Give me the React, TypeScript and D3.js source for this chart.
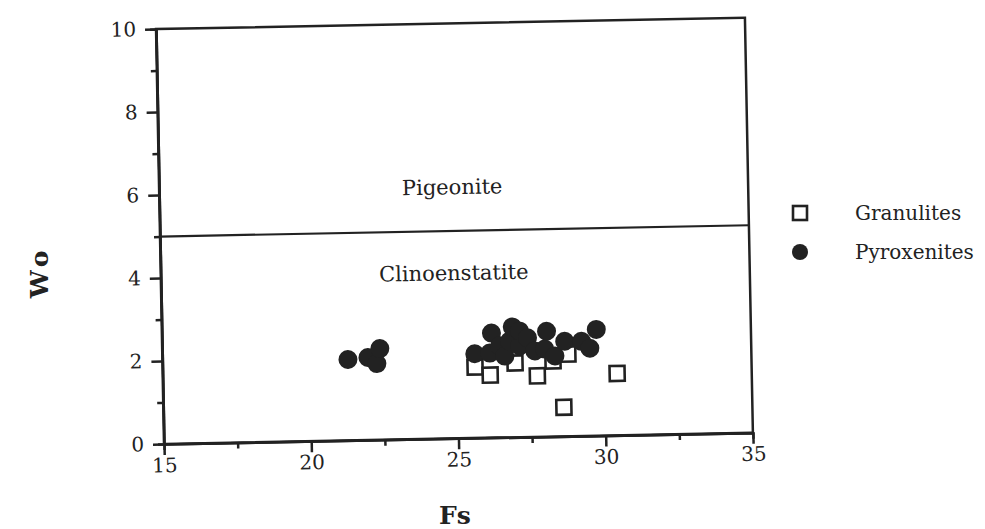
import React, { useEffect, useRef } from 'react';
import * as d3 from 'd3';

// Pyroxene Wo vs Fs (scanned figure, slightly tilted)
const granulites: [number, number][] = [
  [25.61, 1.71],
  [26.12, 1.51],
  [26.97, 1.79],
  [27.72, 1.47],
  [28.26, 1.82],
  [28.77, 1.98],
  [30.43, 1.49],
  [28.6, 0.7],
];

const pyroxenites: [number, number][] = [
  [21.3, 1.95],
  [21.98, 1.99],
  [22.28, 1.84],
  [22.39, 2.2],
  [25.61, 2.03],
  [26.12, 2.04],
  [26.19, 2.52],
  [26.46, 2.21],
  [26.63, 1.96],
  [26.8, 2.32],
  [26.9, 2.66],
  [27.14, 2.2],
  [27.14, 2.56],
  [27.41, 2.39],
  [27.65, 2.07],
  [27.99, 2.11],
  [28.06, 2.54],
  [28.33, 1.94],
  [28.67, 2.29],
  [29.24, 2.28],
  [29.52, 2.11],
  [29.75, 2.56],
];

const xTicks = [15, 20, 25, 30, 35];
const xMinor = [17.5, 22.5, 27.5, 32.5];
const yTicks = [0, 2, 4, 6, 8, 10];
const yMinor = [1, 3, 5, 7, 9];

const boundaryWo = 5;
const fieldLabels = [
  { name: 'Pigeonite', fs: 24.95, wo: 6.06 },
  { name: 'Clinoenstatite', fs: 24.95, wo: 3.99 },
];

const legendItems = ['Granulites', 'Pyroxenites'];

const FONT = '"DejaVu Serif", serif';

export default function App() {
  const svgRef = useRef<SVGSVGElement>(null);

  useEffect(() => {
    if (!svgRef.current) return;
    const svg = d3.select(svgRef.current);
    svg.selectAll('*').remove();

    const W = 589;
    const H = 415;
    const x = d3.scaleLinear().domain([15, 35]).range([0, W]);
    const y = d3.scaleLinear().domain([0, 10]).range([H, 0]);

    // the whole frame is tilted a little, like the scan
    const g = svg
      .append('g')
      .attr('transform', `translate(164,444) rotate(-1.1) translate(0,${-H})`);

    // frame (top and right)
    g.append('rect')
      .attr('x', 0)
      .attr('y', 0)
      .attr('width', W)
      .attr('height', H)
      .attr('fill', 'none')
      .attr('stroke', '#222')
      .attr('stroke-width', 2.5);

    // Wo = 5 boundary
    g.append('line')
      .attr('x1', x(15))
      .attr('x2', x(35))
      .attr('y1', y(boundaryWo))
      .attr('y2', y(boundaryWo))
      .attr('stroke', '#222')
      .attr('stroke-width', 2.2);

    const styleAxis = (sel: any) => {
      sel.select('.domain').attr('stroke', '#222').attr('stroke-width', 2.5);
      sel.selectAll('.tick line').attr('stroke', '#222').attr('stroke-width', 2.5);
      sel.selectAll('.tick text')
        .attr('fill', '#222')
        .style('font-family', FONT)
        .style('font-size', '20px');
    };

    const xAxis = g.append('g')
      .attr('transform', `translate(0,${H})`)
      .call(d3.axisBottom(x).tickValues(xTicks).tickSize(11).tickPadding(3).tickSizeOuter(0));
    styleAxis(xAxis);
    const xAxisMinor = g.append('g')
      .attr('transform', `translate(0,${H})`)
      .call(d3.axisBottom(x).tickValues(xMinor).tickSize(6).tickFormat(() => ''));
    styleAxis(xAxisMinor);

    const yAxis = g.append('g')
      .call(d3.axisLeft(y).tickValues(yTicks).tickSize(11).tickPadding(9).tickSizeOuter(0));
    styleAxis(yAxis);
    const yAxisMinor = g.append('g')
      .call(d3.axisLeft(y).tickValues(yMinor).tickSize(6).tickFormat(() => ''));
    styleAxis(yAxisMinor);

    // field names
    g.selectAll('text.field')
      .data(fieldLabels)
      .join('text')
      .attr('class', 'field')
      .attr('x', d => x(d.fs))
      .attr('y', d => y(d.wo))
      .attr('dy', '0.35em')
      .attr('text-anchor', 'middle')
      .style('font-family', FONT)
      .style('font-size', '21px')
      .attr('fill', '#222')
      .text(d => d.name);

    const sq = 15;
    g.selectAll('rect.gran')
      .data(granulites)
      .join('rect')
      .attr('class', 'gran')
      .attr('x', d => x(d[0]) - sq / 2)
      .attr('y', d => y(d[1]) - sq / 2)
      .attr('width', sq)
      .attr('height', sq)
      .attr('fill', '#fff')
      .attr('stroke', '#222')
      .attr('stroke-width', 2.6);

    g.selectAll('circle.pyx')
      .data(pyroxenites)
      .join('circle')
      .attr('class', 'pyx')
      .attr('cx', d => x(d[0]))
      .attr('cy', d => y(d[1]))
      .attr('r', 9.5)
      .attr('fill', '#222');

    // axis titles
    svg.append('text')
      .attr('x', 455)
      .attr('y', 524)
      .attr('text-anchor', 'middle')
      .style('font-family', FONT)
      .style('font-size', '25px')
      .style('font-weight', 'bold')
      .attr('fill', '#222')
      .text('Fs');

    svg.append('text')
      .attr('transform', 'translate(48,272) rotate(-90)')
      .attr('text-anchor', 'middle')
      .style('font-family', FONT)
      .style('font-size', '25px')
      .style('font-weight', 'bold')
      .style('letter-spacing', '5px')
      .attr('fill', '#222')
      .text('Wo');

    // legend
    const lg = svg.append('g').attr('transform', 'translate(800,213)');
    legendItems.forEach((name, i) => {
      const row = lg.append('g').attr('transform', `translate(0,${i * 39})`);
      if (i === 0) {
        row.append('rect')
          .attr('x', -7).attr('y', -7).attr('width', 14).attr('height', 14)
          .attr('fill', '#fff').attr('stroke', '#222').attr('stroke-width', 2.6);
      } else {
        row.append('circle').attr('r', 8).attr('fill', '#222');
      }
      row.append('text')
        .attr('x', 55)
        .attr('dy', '0.35em')
        .style('font-family', FONT)
        .style('font-size', '20px')
        .attr('fill', '#222')
        .text(name);
    });
  }, []);

  return (
    <svg
      ref={svgRef}
      width={985}
      height={529}
      style={{ position: 'absolute', left: 0, top: 0, background: '#fff' }}
    />
  );
}
